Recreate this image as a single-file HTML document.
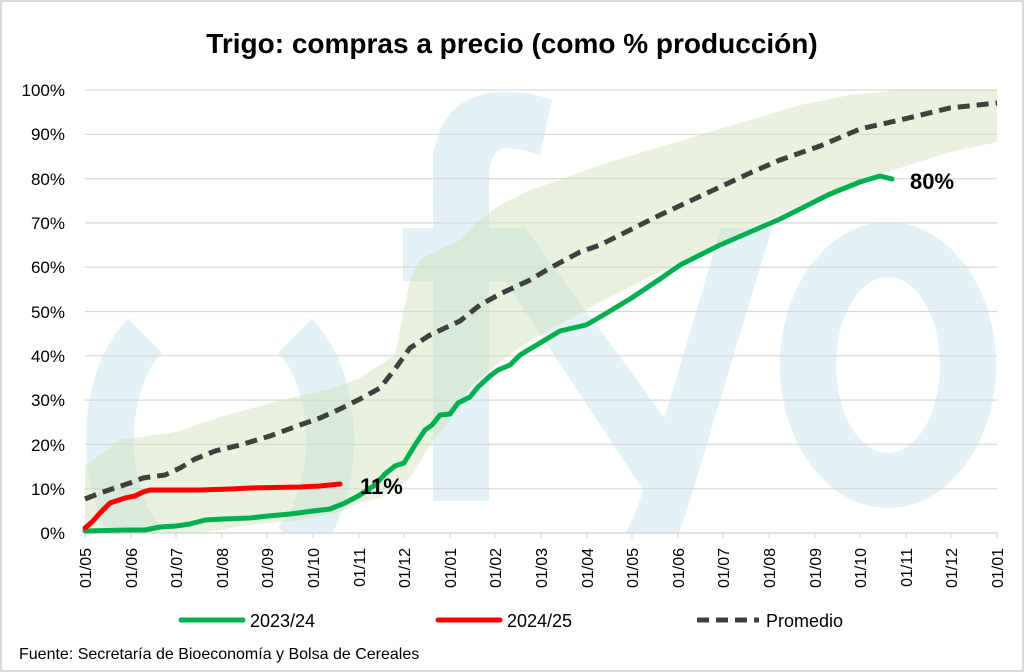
<!DOCTYPE html>
<html><head><meta charset="utf-8"><style>
html,body{margin:0;padding:0;background:#fff}
svg{display:block}
text{font-family:"Liberation Sans",sans-serif}
</style></head><body>
<svg width="1024" height="672" viewBox="0 0 1024 672" xmlns="http://www.w3.org/2000/svg">
<rect x="1" y="1" width="1022" height="670" fill="#fff" stroke="#d9d9d9" stroke-width="2"/>
<text x="512" y="53" text-anchor="middle" font-size="28" font-weight="bold" fill="#000">Trigo: compras a precio (como % producción)</text>
<defs><clipPath id="c"><rect x="85" y="85" width="912" height="448"/></clipPath></defs>
<!-- watermark -->
<g fill="#e4f1f6" clip-path="url(#c)">
<path d="M145,336 A70,120 0 0,0 145,544" fill="none" stroke="#e4f1f6" stroke-width="48"/>
<path d="M295,336 A70,120 0 0,1 295,544" fill="none" stroke="#e4f1f6" stroke-width="48"/>
<rect x="433" y="150" width="56" height="351"/>
<path d="M433,160 Q440,90 510,92 Q535,93 552,100 L540,155 Q520,148 505,148 Q489,150 489,180 Z"/>
<rect x="403" y="228" width="120" height="53"/>
<path d="M470,228 L525,228 L670,425 L650,500 Z"/>
<path d="M721,228 L772,228 L690,500 Q650,640 540,630 L546,575 Q610,585 640,500 Z"/>
<path fill-rule="evenodd" d="M780,365 a108,143 0 1,0 216,0 a108,143 0 1,0 -216,0 Z M836,365 a52,88 0 1,0 104,0 a52,88 0 1,0 -104,0 Z"/>
</g>
<!-- gridlines -->
<g stroke="#d9d9d9" stroke-width="1.2">
<line x1="85" x2="997" y1="90" y2="90"/><line x1="85" x2="997" y1="134.3" y2="134.3"/>
<line x1="85" x2="997" y1="178.6" y2="178.6"/><line x1="85" x2="997" y1="222.9" y2="222.9"/>
<line x1="85" x2="997" y1="267.2" y2="267.2"/><line x1="85" x2="997" y1="311.5" y2="311.5"/>
<line x1="85" x2="997" y1="355.8" y2="355.8"/><line x1="85" x2="997" y1="400.1" y2="400.1"/>
<line x1="85" x2="997" y1="444.4" y2="444.4"/><line x1="85" x2="997" y1="488.7" y2="488.7"/>
</g>
<!-- band -->
<path fill="rgba(205,226,185,0.45)" d="M85,466 L100,455 L120,440 L140,437 L176,432 L190,427 L230,414 L290,398 L330,389 L360,378 L380,365 L395,355 L410,280 L420,260 L440,249 L460,240 L480,220 L500,205 L530,190 L560,180 L600,165 L650,150 L700,135 L750,120 L800,105 L850,95 L900,90 L997,90 L997,142 L950,152 L900,168 L860,180 L800,205 L750,228 L700,252 L650,277 L600,302 L560,324 L520,347 L500,362 L470,387 L450,420 L430,445 L410,478 L380,498 L360,503 L340,512 L300,520 L250,525 L200,533 L85,533 Z"/>
<!-- axis -->
<line x1="85" x2="997" y1="533" y2="533" stroke="#d9d9d9" stroke-width="1.5"/>
<g stroke="#d9d9d9" stroke-width="1.2">
<line x1="85" x2="85" y1="533" y2="538"/><line x1="131" x2="131" y1="533" y2="538"/><line x1="176" x2="176" y1="533" y2="538"/><line x1="222" x2="222" y1="533" y2="538"/><line x1="267" x2="267" y1="533" y2="538"/><line x1="313" x2="313" y1="533" y2="538"/><line x1="359" x2="359" y1="533" y2="538"/><line x1="404" x2="404" y1="533" y2="538"/><line x1="450" x2="450" y1="533" y2="538"/><line x1="495" x2="495" y1="533" y2="538"/><line x1="541" x2="541" y1="533" y2="538"/><line x1="587" x2="587" y1="533" y2="538"/><line x1="632" x2="632" y1="533" y2="538"/><line x1="678" x2="678" y1="533" y2="538"/><line x1="723" x2="723" y1="533" y2="538"/><line x1="769" x2="769" y1="533" y2="538"/><line x1="815" x2="815" y1="533" y2="538"/><line x1="860" x2="860" y1="533" y2="538"/><line x1="906" x2="906" y1="533" y2="538"/><line x1="951" x2="951" y1="533" y2="538"/><line x1="997" x2="997" y1="533" y2="538"/>
</g>
<!-- y labels -->
<g font-size="17" fill="#000" text-anchor="end">
<text x="65" y="96">100%</text><text x="65" y="140">90%</text><text x="65" y="185">80%</text><text x="65" y="229">70%</text><text x="65" y="273">60%</text><text x="65" y="318">50%</text><text x="65" y="362">40%</text><text x="65" y="406">30%</text><text x="65" y="451">20%</text><text x="65" y="495">10%</text><text x="65" y="539">0%</text>
</g>
<!-- x labels -->
<g font-size="16" fill="#000" text-anchor="end">
<text transform="translate(91,548) rotate(-90)">01/05</text>
<text transform="translate(137,548) rotate(-90)">01/06</text>
<text transform="translate(182,548) rotate(-90)">01/07</text>
<text transform="translate(228,548) rotate(-90)">01/08</text>
<text transform="translate(273,548) rotate(-90)">01/09</text>
<text transform="translate(319,548) rotate(-90)">01/10</text>
<text transform="translate(365,548) rotate(-90)">01/11</text>
<text transform="translate(410,548) rotate(-90)">01/12</text>
<text transform="translate(456,548) rotate(-90)">01/01</text>
<text transform="translate(501,548) rotate(-90)">01/02</text>
<text transform="translate(547,548) rotate(-90)">01/03</text>
<text transform="translate(593,548) rotate(-90)">01/04</text>
<text transform="translate(638,548) rotate(-90)">01/05</text>
<text transform="translate(684,548) rotate(-90)">01/06</text>
<text transform="translate(729,548) rotate(-90)">01/07</text>
<text transform="translate(775,548) rotate(-90)">01/08</text>
<text transform="translate(821,548) rotate(-90)">01/09</text>
<text transform="translate(866,548) rotate(-90)">01/10</text>
<text transform="translate(912,548) rotate(-90)">01/11</text>
<text transform="translate(957,548) rotate(-90)">01/12</text>
<text transform="translate(1003,548) rotate(-90)">01/01</text>
</g>
<!-- series -->
<polyline fill="none" stroke="#404040" stroke-width="5" stroke-dasharray="12,7" points="85,499 100,493 130,483 143,478 165,475 180,468 195,459 215,451 240,445 270,436 300,425 320,418 340,409 360,399 380,388 395,369 410,348 430,335 460,321 480,305 500,294 530,280 550,268 580,252 600,245 630,230 660,215 690,201 720,187 750,173 780,160 820,146 860,129 900,120 950,108 997,103"/>
<polyline fill="none" stroke="#00b050" stroke-width="5" stroke-linejoin="round" stroke-linecap="round" points="85,531 130,530 145,530 160,527 176,526 190,524 205,520 223,519 250,518 268,516 290,514 313,511 330,509 345,503 360,495 375,485 385,474 395,466 404,463 415,445 425,430 432,425 440,415 450,414 458,403 470,397 478,387 490,376 498,370 510,365 520,355 540,343 560,331 586,325 600,317 630,299 660,279 680,265 700,255 720,245 750,232 780,219 800,209 830,194 860,182 880,176 892,179"/>
<polyline fill="none" stroke="#ff0000" stroke-width="5" stroke-linejoin="round" stroke-linecap="round" points="85,528 92,522 100,513 110,503 125,498 135,496 143,492 150,490 200,490 230,489 250,488 300,487 320,486 340,484"/>
<text x="360" y="494" font-size="22" font-weight="bold" fill="#000">11%</text>
<text x="910" y="189" font-size="22" font-weight="bold" fill="#000">80%</text>
<!-- legend -->
<line x1="181" x2="243" y1="620" y2="620" stroke="#00b050" stroke-width="5" stroke-linecap="round"/>
<text x="250" y="627" font-size="18" fill="#000">2023/24</text>
<line x1="438" x2="500" y1="620" y2="620" stroke="#ff0000" stroke-width="5" stroke-linecap="round"/>
<text x="507" y="627" font-size="18" fill="#000">2024/25</text>
<line x1="697" x2="759" y1="620" y2="620" stroke="#404040" stroke-width="5" stroke-dasharray="12,7"/>
<text x="766" y="627" font-size="18" fill="#000">Promedio</text>
<text x="19" y="659" font-size="16" fill="#000">Fuente: Secretaría de Bioeconomía y Bolsa de Cereales</text>
</svg>
</body></html>
